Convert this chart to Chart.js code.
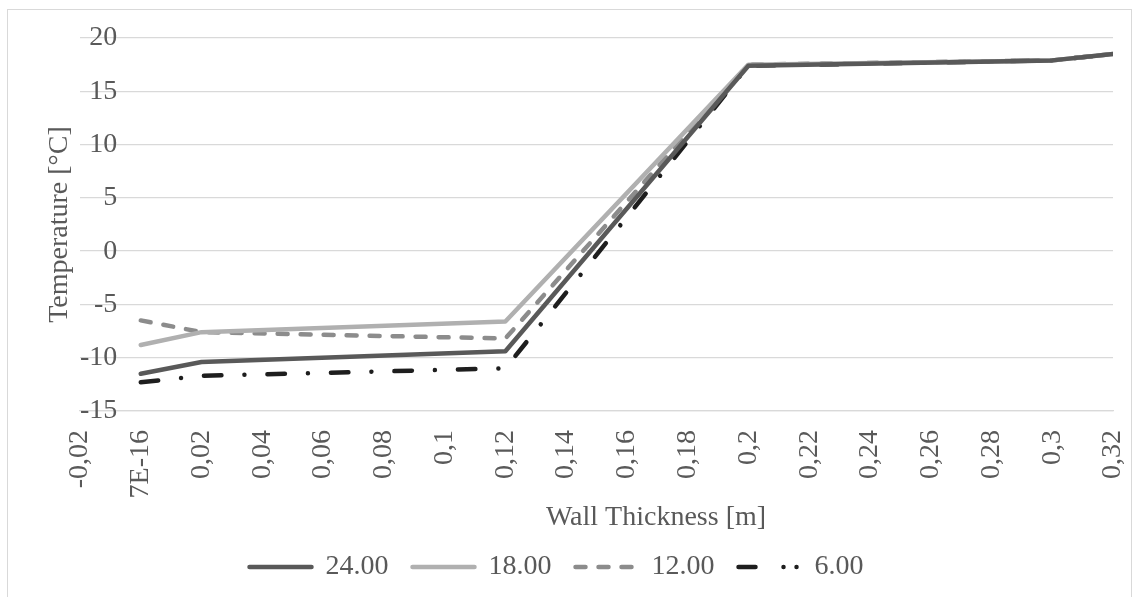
<!DOCTYPE html>
<html>
<head>
<meta charset="utf-8">
<script src="https://cdn.jsdelivr.net/npm/chart.js@4.4.1/dist/chart.umd.min.js"></script>
<style>
  html, body { margin: 0; padding: 0; background: #ffffff; }
  #wrap { position: relative; width: 1139px; height: 597px; overflow: hidden; }
  #frame { position: absolute; left: 7px; top: 9px; width: 1125px; height: 620px;
           border: 1.3px solid #d9d9d9; box-sizing: border-box; }
  canvas { position: absolute; left: 0; top: 0; }
</style>
</head>
<body>
<div id="wrap">
  <div id="frame"></div>
  <canvas id="chart" width="1139" height="597"></canvas>
</div>
<script>
// Wall thickness positions [m] of the layer boundaries
const thickness = [0, 0.02, 0.12, 0.2, 0.3, 0.32];

// Temperature profiles [°C] for each series
const series24 = [-11.5, -10.4, -9.4, 17.4, 17.9, 18.5];
const series18 = [-8.8, -7.6, -6.6, 17.5, 17.9, 18.5];
const series12 = [-6.5, -7.6, -8.2, 17.5, 17.9, 18.5];
const series6  = [-12.3, -11.7, -11.0, 17.4, 17.9, 18.5];

const seriesNames = ['24.00', '18.00', '12.00', '6.00'];

// Axis tick labels
const xTickLabels = ['-0,02', '7E-16', '0,02', '0,04', '0,06', '0,08', '0,1', '0,12', '0,14',
                     '0,16', '0,18', '0,2', '0,22', '0,24', '0,26', '0,28', '0,3', '0,32'];
const yTickLabels = ['-15', '-10', '-5', '0', '5', '10', '15', '20'];

const FONT = "'Liberation Serif', 'Times New Roman', serif";
const TEXT = '#595959';
const FS = 28;

function points(vals) {
  return thickness.map((x, i) => ({ x: x, y: vals[i] }));
}

// Line looks: solid dark, solid light, dashed, long-dash-dot
const styles = [
  { color: '#595959', dash: [], legendDash: [] },
  { color: '#b0b0b0', dash: [], legendDash: [] },
  { color: '#8c8c8c', dash: [10, 13], legendDash: [10, 13] },
  { color: '#1e1e1e', dash: [17.5, 23, 0.01, 23], legendDash: [17, 28, 0.01, 13, 0.01, 100] }
];
const allSeries = [series24, series18, series12, series6];

const datasets = allSeries.map((vals, i) => ({
  label: seriesNames[i],
  data: points(vals),
  borderColor: styles[i].color,
  backgroundColor: styles[i].color,
  borderWidth: 4.5,
  borderDash: styles[i].dash,
  borderCapStyle: 'round',
  borderJoinStyle: 'round',
  pointRadius: 0,
  pointHoverRadius: 0,
  tension: 0,
  fill: false
}));

new Chart(document.getElementById('chart'), {
  type: 'line',
  data: { datasets: datasets },
  options: {
    responsive: false,
    animation: false,
    events: [],
    layout: { padding: { left: 0, right: 26, top: 38, bottom: 6 } },
    scales: {
      x: {
        type: 'linear',
        min: -0.02,
        max: 0.32,
        afterFit(scale) {
          scale.height = 118;
          scale.paddingLeft = 0;
          scale.paddingRight = 0;
        },
        ticks: {
          stepSize: 0.02,
          autoSkip: false,
          maxRotation: 90,
          minRotation: 90,
          padding: 19,
          color: TEXT,
          font: { family: FONT, size: FS },
          callback: (v, i) => xTickLabels[i]
        },
        grid: { display: false, drawTicks: false },
        border: { display: true, color: '#d9d9d9', width: 1.3 },
        title: {
          display: true,
          text: '                 Wall Thickness [m]',
          color: TEXT,
          font: { family: FONT, size: FS },
          padding: { top: 0, bottom: -5 }
        }
      },
      y: {
        type: 'linear',
        min: -15,
        max: 20,
        afterFit(scale) {
          scale.width = 80;
          scale.paddingTop = 0;
          scale.paddingBottom = 0;
        },
        ticks: {
          stepSize: 5,
          mirror: true,
          crossAlign: 'far',
          padding: 0,
          color: TEXT,
          font: { family: FONT, size: FS },
          callback: (v, i) => yTickLabels[i]
        },
        grid: { color: '#d9d9d9', lineWidth: 1.3, drawTicks: false },
        border: { display: false },
        title: {
          display: true,
          text: 'Temperature [°C]',
          color: TEXT,
          font: { family: FONT, size: FS },
          padding: { top: 42.5, bottom: 0 }
        }
      }
    },
    plugins: {
      tooltip: { enabled: false },
      legend: {
        position: 'bottom',
        labels: {
          usePointStyle: true,
          pointStyleWidth: 62,
          boxHeight: 4,
          padding: 24,
          color: TEXT,
          font: { family: FONT, size: FS },
          generateLabels(chart) {
            return chart.data.datasets.map((ds, i) => ({
              text: ds.label,
              datasetIndex: i,
              fillStyle: ds.borderColor,
              strokeStyle: ds.borderColor,
              fontColor: TEXT,
              lineWidth: ds.borderWidth,
              lineDash: styles[i].legendDash,
              lineCap: 'round',
              pointStyle: 'line',
              hidden: false
            }));
          }
        }
      }
    }
  }
});
</script>
</body>
</html>
